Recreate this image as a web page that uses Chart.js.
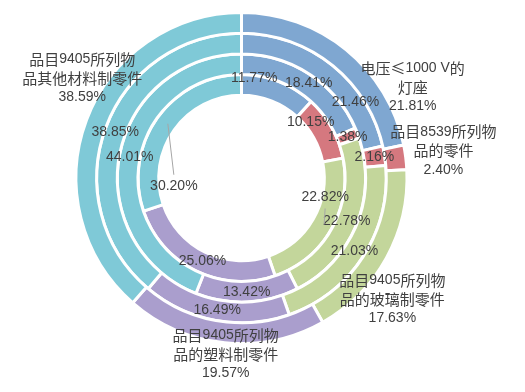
<!DOCTYPE html>
<html>
<head>
<meta charset="utf-8">
<script src="https://cdn.jsdelivr.net/npm/chart.js@4"></script>
<style>
  html, body { margin: 0; padding: 0; background: #fff; }
  #wrap { width: 525px; height: 392px; }
</style>
</head>
<body>
<div id="wrap"><canvas id="myChart" width="525" height="392"></canvas></div>
<script>
// categories (line breaks as shown in the outer labels)
const categories = [
  '电压≤1000 V的\n灯座',
  '品目8539所列物\n品的零件',
  '品目9405所列物\n品的玻璃制零件',
  '品目9405所列物\n品的塑料制零件',
  '品目9405所列物\n品其他材料制零件'
];

// rings, outer to inner (%)
const ring1 = [21.81, 2.40, 17.63, 19.57, 38.59];
const ring2 = [21.46, 2.16, 21.03, 16.49, 38.85];
const ring3 = [18.41, 1.38, 22.78, 13.42, 44.01];
const ring4 = [11.77, 10.15, 22.82, 25.06, 30.20];

const colors = ['#7FA7D1', '#D5787F', '#C3D69B', '#AA9ECD', '#7FC9D7'];

// label nudges from the arc centre, px (outer ring labels sit outside)
const labelShift = [
  [[73, 29], [48, -8], [15, 46], [0, 22], [-14, -45]],
  [[30, 29], [0, 0], [0, 0], [0, 0], [0, 0]],
  [[5, 0], [0, 0], [0, 0], [0, 0], [0, 0]],
  [[-21, -13], [-12, -10], [3, -27], [2, 0], [8, 62]]
];
// labels that get a leader line: [dataset, index]
const leaders = [[3, 2], [3, 4]];

const latinFont = "14px 'Liberation Sans', sans-serif";
const cjkFont = "15px 'Noto Sans CJK SC', sans-serif";

// draw a line of mixed text centred on x, latin and CJK in their own fonts
const drawMixed = (ctx, text, x, y) => {
  const runs = [];
  for (const ch of text) {
    const cjk = /[\u2264\u3000-\u9fff]/.test(ch);
    if (runs.length && runs[runs.length - 1].cjk === cjk) runs[runs.length - 1].t += ch;
    else runs.push({ t: ch, cjk });
  }
  let total = 0;
  runs.forEach(r => {
    ctx.font = r.cjk ? cjkFont : latinFont;
    r.w = ctx.measureText(r.t).width;
    total += r.w;
  });
  let cx = x - total / 2;
  ctx.textAlign = 'left';
  runs.forEach(r => {
    ctx.font = r.cjk ? cjkFont : latinFont;
    ctx.fillText(r.t, cx, y);
    cx += r.w;
  });
};

const labelPlugin = {
  id: 'ringLabels',
  afterDatasetsDraw(chart) {
    const ctx = chart.ctx;
    ctx.save();
    ctx.fillStyle = '#404040';
    ctx.textBaseline = 'middle';
    chart.data.datasets.forEach((ds, d) => {
      const meta = chart.getDatasetMeta(d);
      meta.data.forEach((arc, i) => {
        const p = arc.getCenterPoint();
        const lx = p.x + labelShift[d][i][0];
        const ly = p.y + labelShift[d][i][1];
        const pct = ds.data[i].toFixed(2) + '%';
        if (leaders.some(l => l[0] === d && l[1] === i)) {
          const dir = ly > p.y ? -1 : 1;
          ctx.strokeStyle = '#A6A6A6';
          ctx.lineWidth = 1;
          ctx.beginPath();
          ctx.moveTo(p.x + 2, p.y);
          ctx.lineTo(lx, ly + dir * 11);
          ctx.stroke();
        }
        if (d === 0) {
          const lines = categories[i].split('\n').concat([pct]);
          const lh = 19;
          lines.forEach((t, k) => {
            drawMixed(ctx, t, lx, ly + (k - (lines.length - 1) / 2) * lh);
          });
        } else {
          drawMixed(ctx, pct, lx, ly);
        }
      });
    });
    ctx.restore();
  }
};

const ctx = document.getElementById('myChart').getContext('2d');
const chart = new Chart(ctx, {
  type: 'doughnut',
  data: {
    labels: categories,
    datasets: [ring1, ring2, ring3, ring4].map(r => ({
      data: r,
      backgroundColor: colors,
      borderColor: '#ffffff',
      borderWidth: 3
    }))
  },
  options: {
    responsive: false,
    animation: false,
    cutout: '50%',
    layout: { padding: { top: 11, bottom: 47, left: 0, right: 42 } },
    plugins: {
      legend: { display: false },
      tooltip: { enabled: false }
    }
  },
  plugins: [labelPlugin]
});
</script>
</body>
</html>
